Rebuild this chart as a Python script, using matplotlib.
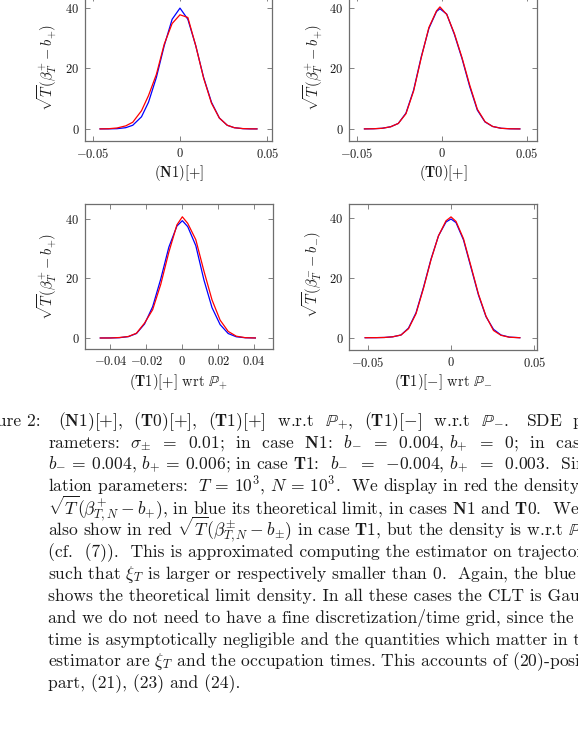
import matplotlib
matplotlib.use("Agg")
import matplotlib.pyplot as plt

plt.rcParams["font.family"] = "cmr10"
plt.rcParams["mathtext.fontset"] = "cm"
plt.rcParams["axes.unicode_minus"] = False

# --- data ---
# (N1)[+]
n1_x = [-0.0457, -0.041, -0.036, -0.031, -0.027, -0.022, -0.018, -0.0135, -0.009, -0.0045,
        0.0, 0.0045, 0.009, 0.0135, 0.018, 0.0225, 0.027, 0.031, 0.036, 0.04, 0.044]
n1_blue = [0.0, 0.01, 0.07, 0.4, 1.2, 4.0, 8.8, 17.0, 27.5, 36.2,
           39.9, 36.2, 27.5, 17.0, 8.8, 3.6, 1.2, 0.4, 0.07, 0.01, 0.0]
n1_red = [0.0, 0.05, 0.3, 1.0, 2.2, 6.0, 11.0, 18.0, 28.0, 34.8,
          37.7, 36.8, 27.5, 16.8, 8.5, 3.6, 1.2, 0.4, 0.1, 0.02, 0.0]

# (T0)[+]
t0_x = [-0.0454, -0.04, -0.035, -0.03, -0.0255, -0.021, -0.0165, -0.012, -0.0075, -0.003,
        -0.001, 0.003, 0.0075, 0.012, 0.0165, 0.021, 0.0255, 0.03, 0.035, 0.04, 0.046]
t0_blue = [0.0, 0.05, 0.2, 0.7, 1.8, 5.2, 12.8, 23.8, 33.2, 38.8,
           39.7, 37.9, 31.2, 23.2, 14.0, 6.2, 2.3, 0.8, 0.2, 0.04, 0.0]
t0_red = [0.0, 0.05, 0.2, 0.7, 1.8, 5.0, 12.5, 23.5, 33.5, 39.0,
          40.3, 37.8, 31.5, 23.5, 14.5, 6.5, 2.4, 0.8, 0.2, 0.04, 0.0]

# (T1)[+] wrt P+
t1p_x = [-0.0456, -0.04, -0.035, -0.03, -0.0255, -0.021, -0.0165, -0.012, -0.0075, -0.003,
         0.0, 0.003, 0.0075, 0.012, 0.0165, 0.021, 0.0255, 0.03, 0.035, 0.0406]
t1p_blue = [0.0, 0.02, 0.1, 0.45, 1.5, 4.7, 10.5, 19.8, 30.5, 37.6,
            39.4, 37.4, 31.0, 19.5, 10.2, 4.5, 1.5, 0.4, 0.08, 0.0]
t1p_red = [0.0, 0.0, 0.15, 0.5, 1.6, 5.0, 9.5, 18.0, 28.8, 38.0,
           40.7, 38.5, 33.0, 22.5, 12.8, 6.0, 2.2, 0.6, 0.1, 0.0]

# (T1)[-] wrt P-
t1m_x = [-0.0515, -0.045, -0.04, -0.035, -0.03, -0.0255, -0.021, -0.0165, -0.012, -0.0075,
         -0.003, 0.0, 0.003, 0.0075, 0.012, 0.0165, 0.021, 0.0255, 0.03, 0.035, 0.0413]
t1m_blue = [0.0, 0.02, 0.08, 0.3, 0.9, 3.2, 8.3, 16.8, 26.2, 34.0,
            38.6, 39.6, 38.4, 32.6, 23.4, 14.2, 7.0, 2.8, 0.9, 0.2, 0.0]
t1m_red = [0.0, 0.02, 0.08, 0.3, 0.9, 3.0, 8.0, 16.5, 26.0, 34.0,
           39.0, 40.3, 38.8, 33.0, 23.8, 14.5, 7.2, 2.4, 0.8, 0.15, 0.0]

ticks_05 = [-0.05, 0.0, 0.05]
ticks_02 = [-0.04, -0.02, 0.0, 0.02, 0.04]
yticks = [0, 20, 40]

caption = [
    r"$\mathbf{(N1)}$[+],  $\mathbf{(T0)}$[+],  $\mathbf{(T1)}$[+]  w.r.t  $\mathbb{P}_{+}$,  $\mathbf{(T1)}$[$-$]  w.r.t  $\mathbb{P}_{-}$.   SDE  pa-",
    r"rameters:  $\sigma_{\pm}$  =  0.01;  in  case  $\mathbf{N1}$:  $b_{-}$  =  0.004, $b_{+}$  =  0;  in  case  $\mathbf{T0}$:",
    r"$b_{-}$ = 0.004, $b_{+}$ = 0.006; in case $\mathbf{T1}$:  $b_{-}$  =  $-$0.004, $b_{+}$  =  0.003.  Simu-",
    r"lation parameters:  $T$ = 10$^{3}$, $N$ = 10$^{3}$.  We display in red the density of",
    r"$\sqrt{T}(\beta^{+}_{T,N} - b_{+})$, in blue its theoretical limit, in cases $\mathbf{N1}$ and $\mathbf{T0}$.  We",
    r"also show in red $\sqrt{T}(\beta^{\pm}_{T,N} - b_{\pm})$ in case $\mathbf{T1}$, but the density is w.r.t $\mathbb{P}_{\pm}$",
    r"(cf.  (7)).  This is approximated computing the estimator on trajectories",
    r"such that $\xi_{T}$ is larger or respectively smaller than 0.  Again, the blue line",
    r"shows the theoretical limit density. In all these cases the CLT is Gaussian",
    r"and we do not need to have a fine discretization/time grid, since the last",
    r"time is asymptotically negligible and the quantities which matter in the",
    r"estimator are $\xi_{T}$ and the occupation times. This accounts of (20)-positive",
    r"part, (21), (23) and (24).",
]

W, H = 578, 730
fig = plt.figure(figsize=(W / 100, H / 100), dpi=100)


def rect(left, right, top, bottom):
    return [left / W, 1 - bottom / H, (right - left) / W, (bottom - top) / H]


def fmt(v):
    if v == 0:
        return "$0$"
    return "$%g$" % v


panels = [
    dict(r=rect(85, 272, -4.3, 141), xlim=(-0.0543, 0.0526), ylim=(-4, 44), xt=ticks_05,
         x=n1_x, blue=n1_blue, red=n1_red, yl=r"$\sqrt{T}(\beta_T^{+} - b_{+})$",
         xl=r"$\mathbf{(N1)}$[+]", ylx=-0.203, yly=0.506, xly=-0.218),
    dict(r=rect(349, 537, -4.3, 141), xlim=(-0.0545, 0.0561), ylim=(-4, 44), xt=ticks_05,
         x=t0_x, blue=t0_blue, red=t0_red, yl=r"$\sqrt{T}(\beta_T^{+} - b_{+})$",
         xl=r"$\mathbf{(T0)}$[+]", ylx=-0.19, yly=0.506, xly=-0.218),
    dict(r=rect(85, 273, 204, 349), xlim=(-0.0541, 0.0504), ylim=(-3.7, 45), xt=ticks_02,
         x=t1p_x, blue=t1p_blue, red=t1p_red, yl=r"$\sqrt{T}(\beta_T^{+} - b_{+})$",
         xl=r"$\mathbf{(T1)}$[+] wrt $\mathbb{P}_{+}$", ylx=-0.203, yly=0.5, xly=-0.2255),
    dict(r=rect(349, 537, 204, 350), xlim=(-0.0612, 0.0516), ylim=(-4.1, 44.6), xt=ticks_05,
         x=t1m_x, blue=t1m_blue, red=t1m_red, yl=r"$\sqrt{T}(\beta_T^{-} - b_{-})$",
         xl=r"$\mathbf{(T1)}$[$-$] wrt $\mathbb{P}_{-}$", ylx=-0.198, yly=0.52, xly=-0.217),
]

frame = "#6e6e6e"
ink = "#1a1a1a"

for p in panels:
    ax = fig.add_axes(p["r"])
    ax.plot(p["x"], p["blue"], color="blue", lw=0.9)
    ax.plot(p["x"], p["red"], color="red", lw=0.9)
    ax.set_xlim(*p["xlim"])
    ax.set_ylim(*p["ylim"])
    ax.set_xticks(p["xt"])
    ax.set_xticklabels([fmt(v) for v in p["xt"]])
    ax.set_yticks(yticks)
    ax.set_yticklabels([fmt(v) for v in yticks])
    ax.tick_params(direction="in", top=True, right=True, length=3.5, width=0.6,
                   color=frame, labelsize=9, labelcolor=ink, pad=4)
    for s in ax.spines.values():
        s.set_color(frame)
        s.set_linewidth(0.9)
    ax.text(p["ylx"], p["yly"], p["yl"], rotation=90, ha="center", va="center",
            transform=ax.transAxes, fontsize=10.5, color=ink)
    ax.text(0.5, p["xly"], p["xl"], ha="center", va="center",
            transform=ax.transAxes, fontsize=10.5, color=ink)

# caption
fs = 12.6
fig.text(41 / W, 1 - 426 / H, "Figure 2:", ha="right", va="baseline", fontsize=fs, color=ink)
for k, line in enumerate(caption):
    x0 = 58 if k == 0 else 47.7
    base = 426 + 21.875 * k
    fig.text(x0 / W, 1 - base / H, line, ha="left", va="baseline", fontsize=fs, color=ink)

fig.savefig("out.png", dpi=100)
